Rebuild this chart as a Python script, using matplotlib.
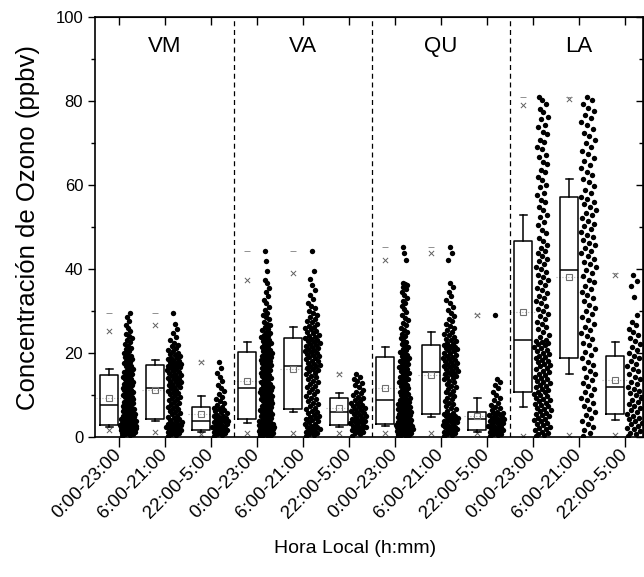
import numpy as np
import matplotlib.pyplot as plt
from matplotlib.ticker import MultipleLocator

plt.rcParams['font.family'] = ['Liberation Sans', 'DejaVu Sans']

sites = ['VM', 'VA', 'QU', 'LA']
periods = ['0:00-23:00', '6:00-21:00', '22:00-5:00']

# puntos individuales (ppbv)
vm_all = [0.3, 0.5, 0.6, 0.8, 0.9, 1.0, 1.1, 1.2, 1.2, 1.3, 1.4, 1.5, 1.5, 1.6, 1.7, 1.8, 1.8, 1.9, 2.0, 2.0,
          2.1, 2.2, 2.2, 2.3, 2.4, 2.4, 2.5, 2.5, 2.6, 2.6, 2.7, 2.7, 2.8, 2.8, 2.9,
          3.0, 3.1, 3.2, 3.3, 3.4, 3.5, 3.6, 3.7, 3.8, 3.9, 4.0, 4.1, 4.3, 4.4, 4.5, 4.7, 4.8, 5.0, 5.1, 5.2,
          5.4, 5.5, 5.7, 5.8, 6.0, 6.1, 6.3, 6.4, 6.6, 6.7, 6.9, 7.0, 7.2, 7.4, 7.6,
          7.8, 8.1, 8.3, 8.4, 8.7, 8.9, 9.0, 9.3, 9.5, 9.6, 9.9, 10.1, 10.2, 10.5, 10.7, 10.8, 11.1, 11.3,
          11.4, 11.7, 11.9, 12.0, 12.3, 12.5, 12.6, 12.9, 13.1, 13.2, 13.5, 13.7, 13.8, 14.1, 14.3, 14.5, 14.8,
          15.0, 15.3, 15.5, 15.8, 16.0, 16.3, 16.5, 16.8, 17.0, 17.3, 17.6, 17.9, 18.2, 18.5, 18.8, 19.1,
          19.4, 19.8, 20.1, 20.5, 20.9, 21.3, 21.7, 22.1, 22.6, 23.0, 23.5, 24.0, 24.6, 25.2, 25.9, 26.7,
          27.6, 28.5, 29.5]
vm_day = [0.3, 0.5, 0.7, 0.9, 1.0, 1.2, 1.3, 1.5, 1.6, 1.8, 1.9, 2.0, 2.2, 2.3, 2.5, 2.6, 2.8, 2.9, 3.1,
          3.2, 3.4, 3.6, 3.8, 4.0, 4.2,
          4.5, 4.8, 5.1, 5.4, 5.7, 6.0, 6.3, 6.6, 6.9, 7.2, 7.5, 7.8, 8.1, 8.4, 8.7, 9.0, 9.3, 9.6, 9.9,
          10.2, 10.5, 10.8, 11.0, 11.3, 11.6,
          11.8, 12.0, 12.3, 12.5, 12.7, 13.0, 13.2, 13.4, 13.7, 13.9, 14.1, 14.4, 14.6, 14.8, 15.1, 15.3,
          15.5, 15.8, 16.0, 16.2, 16.4, 16.6, 16.8, 17.0, 17.1,
          17.3, 17.5, 17.7, 17.9, 18.1, 18.3, 18.5, 18.7, 18.9, 19.2, 19.5, 19.8, 20.1, 20.4, 20.8, 21.2,
          21.6, 22.0, 22.5, 23.0, 23.8, 24.7, 25.8, 26.8, 29.5]
vm_night = [0.3, 0.5, 0.7, 0.9, 1.0, 1.2, 1.4, 1.5, 1.6, 1.7, 1.9, 2.1, 2.3, 2.5, 2.7, 2.9, 3.1, 3.3, 3.5,
            3.7, 3.8, 3.9, 4.1, 4.3, 4.5, 4.7, 4.9, 5.1, 5.3, 5.6, 5.9, 6.1, 6.4, 6.7, 7.0, 7.2, 7.6, 8.0,
            8.5, 9.0, 9.6, 10.2, 10.9, 11.6, 12.4, 13.3, 14.2, 15.3, 16.5, 17.9]
va_all = [0.2, 0.3, 0.4, 0.5, 0.6, 0.7, 0.8, 0.9, 1.0, 1.1, 1.2, 1.3, 1.4, 1.5, 1.6, 1.7, 1.8, 1.9, 2.0,
          2.1, 2.2, 2.3, 2.4, 2.5, 2.6, 2.7, 2.8, 2.9, 3.0, 3.2, 3.3, 3.5, 3.6, 3.8, 3.9, 4.1, 4.3,
          4.5, 4.7, 4.9, 5.1, 5.3, 5.5, 5.7, 5.9, 6.1, 6.3, 6.5, 6.7, 6.9, 7.1, 7.3, 7.5, 7.7, 7.9, 8.1,
          8.3, 8.5, 8.7, 8.9, 9.1, 9.3, 9.5, 9.7, 9.9, 10.1, 10.3, 10.5, 10.7, 10.9, 11.0, 11.2, 11.3,
          11.5, 11.6,
          11.8, 12.0, 12.3, 12.5, 12.7, 13.0, 13.2, 13.5, 13.7, 14.0, 14.2, 14.5, 14.7, 15.0, 15.2, 15.5,
          15.7, 16.0, 16.2, 16.5, 16.7, 17.0, 17.2, 17.5, 17.7, 18.0, 18.2, 18.4, 18.6, 18.8, 19.0, 19.2,
          19.4, 19.6, 19.8, 20.0, 20.2,
          20.5, 20.8, 21.1, 21.4, 21.7, 22.0, 22.3, 22.6, 22.9, 23.2, 23.5, 23.8, 24.1, 24.4, 24.7, 25.0,
          25.4, 25.8, 26.2, 26.6, 27.0, 27.5, 28.0, 28.5, 29.0, 29.6, 30.3, 31.0, 31.8, 32.7, 33.6, 34.5,
          35.5, 36.6, 37.5, 39.5, 41.8, 44.4]
va_day = [0.3, 0.5, 0.7, 0.9, 1.1, 1.3, 1.5, 1.7, 1.9, 2.1, 2.3, 2.5, 2.7, 3.0, 3.2, 3.5, 3.7, 4.0, 4.2,
          4.5, 4.8, 5.0, 5.3, 5.6, 5.9, 6.2, 6.6,
          7.0, 7.4, 7.8, 8.2, 8.6, 9.0, 9.4, 9.8, 10.2, 10.6, 11.0, 11.4, 11.8, 12.2, 12.6, 13.0, 13.4,
          13.8, 14.2, 14.6, 15.0, 15.3, 15.6, 15.9, 16.2, 16.5, 16.8, 17.0,
          17.2, 17.5, 17.7, 18.0, 18.2, 18.5, 18.7, 19.0, 19.2, 19.5, 19.7, 20.0, 20.2, 20.5, 20.7, 21.0,
          21.2, 21.5, 21.7, 22.0, 22.2, 22.5, 22.7, 22.9, 23.1, 23.3, 23.5,
          23.8, 24.1, 24.4, 24.7, 25.0, 25.3, 25.6, 25.9, 26.2, 26.5, 26.9, 27.3, 27.7, 28.1, 28.5, 29.0,
          29.5, 30.0, 30.6, 31.3, 32.0, 32.8, 33.8, 35.0, 36.3, 37.7, 39.5, 44.4]
va_night = [0.3, 0.6, 0.9, 1.1, 1.4, 1.6, 1.9, 2.1, 2.3, 2.5, 2.7, 2.9, 3.1, 3.3, 3.5, 3.7, 3.9, 4.1, 4.3,
            4.5, 4.7, 5.0, 5.2, 5.5, 5.7, 5.9, 6.1, 6.4, 6.6, 6.9, 7.1, 7.4, 7.6, 7.9, 8.2, 8.5, 8.8, 9.2,
            9.6, 10.0, 10.4, 10.8, 11.3, 11.8, 12.3, 12.8, 13.3, 13.9, 14.4, 15.0]
qu_all = [0.2, 0.3, 0.4, 0.5, 0.6, 0.7, 0.8, 0.9, 1.0, 1.0, 1.1, 1.2, 1.3, 1.4, 1.4, 1.5, 1.6, 1.7, 1.8,
          1.8, 1.9, 2.0, 2.1, 2.2, 2.2, 2.3, 2.4, 2.5, 2.5, 2.6, 2.7, 2.7, 2.8, 2.9, 2.9, 3.0, 3.1,
          3.3, 3.4, 3.6, 3.7, 3.9, 4.0, 4.2, 4.3, 4.5, 4.6, 4.8, 4.9, 5.1, 5.2, 5.4, 5.5, 5.7, 5.8, 6.0,
          6.1, 6.3, 6.4, 6.6, 6.7, 6.9, 7.0, 7.2, 7.3, 7.5, 7.6, 7.8, 7.9, 8.1, 8.2, 8.4, 8.5, 8.7, 8.8,
          9.1, 9.4, 9.6, 9.9, 10.2, 10.5, 10.8, 11.0, 11.3, 11.6, 11.9, 12.2, 12.4, 12.7, 13.0, 13.3,
          13.6, 13.8, 14.1, 14.4, 14.7, 15.0, 15.2, 15.5, 15.8, 16.1, 16.4, 16.6, 16.9, 17.2, 17.5, 17.8,
          18.0, 18.3, 18.5, 18.8, 19.0,
          19.3, 19.6, 19.9, 20.2, 20.6, 21.0, 21.4, 21.8, 22.2, 22.6, 23.0, 23.5, 24.0, 24.5, 25.0, 25.5,
          26.0, 26.6, 27.2, 27.8, 28.4, 29.0, 29.7, 30.4, 31.1, 31.8, 32.5, 33.2, 33.9, 34.6, 35.3, 35.7,
          36.1, 36.4, 36.6, 42.1, 43.7, 45.3]
qu_day = [0.3, 0.5, 0.7, 0.9, 1.1, 1.3, 1.5, 1.7, 1.9, 2.1, 2.3, 2.5, 2.7, 2.9, 3.1, 3.3, 3.5, 3.7, 3.9,
          4.1, 4.3, 4.5, 4.7, 4.9, 5.1, 5.2, 5.4,
          5.8, 6.2, 6.6, 7.0, 7.4, 7.8, 8.2, 8.6, 9.0, 9.4, 9.8, 10.2, 10.6, 11.0, 11.4, 11.8, 12.2, 12.6,
          13.0, 13.4, 13.7, 14.0, 14.3, 14.6, 14.9, 15.1, 15.3, 15.4,
          15.6, 15.9, 16.1, 16.4, 16.6, 16.9, 17.1, 17.4, 17.6, 17.9, 18.1, 18.4, 18.6, 18.9, 19.1, 19.4,
          19.6, 19.9, 20.1, 20.4, 20.6, 20.9, 21.1, 21.3, 21.5, 21.7, 21.9,
          22.2, 22.5, 22.8, 23.1, 23.4, 23.8, 24.2, 24.6, 25.0, 25.5, 26.0, 26.5, 27.0, 27.6, 28.2, 28.8,
          29.5, 30.2, 31.0, 31.8, 32.7, 33.6, 34.6, 35.6, 36.6, 42.1, 43.7, 45.3]
qu_night = [0.2, 0.4, 0.6, 0.8, 1.0, 1.2, 1.4, 1.5, 1.7, 1.9, 2.1, 2.3, 2.5, 2.7, 2.9, 3.1, 3.3, 3.5, 3.7,
            3.9, 4.1, 4.2, 4.4, 4.6, 4.8, 5.0, 5.2, 5.4, 5.6, 5.8, 6.0, 6.4, 6.8, 7.2, 7.7, 8.2, 8.8, 9.4,
            10.1, 10.8, 11.6, 12.4, 13.0, 13.7, 29.0]
la_all = [0.2, 0.4, 0.7, 1.0, 1.3, 1.6, 1.9, 2.2, 2.5, 2.8, 3.1, 3.4, 3.7, 4.0, 4.3, 4.6, 4.9, 5.2, 5.5,
          5.8, 6.1, 6.4, 6.7, 7.0, 7.3, 7.6, 7.9, 8.2, 8.5, 8.8, 9.1, 9.4, 9.7, 10.0, 10.3, 10.6, 10.8,
          11.1, 11.4, 11.8, 12.1, 12.4, 12.8, 13.1, 13.4, 13.8, 14.1, 14.4, 14.8, 15.1, 15.4, 15.8, 16.1,
          16.4, 16.8, 17.1, 17.4, 17.8, 18.1, 18.4, 18.8, 19.1, 19.4, 19.8, 20.1, 20.4, 20.8, 21.1, 21.4,
          21.8, 22.1, 22.4, 22.7, 22.9, 23.1,
          23.7, 24.3, 25.0, 25.6, 26.2, 26.8, 27.4, 28.0, 28.7, 29.3, 29.9, 30.5, 31.1, 31.8, 32.4, 33.0,
          33.6, 34.3, 34.9, 35.5, 36.1, 36.8, 37.4, 38.0, 38.6, 39.3, 39.9, 40.5, 41.1, 41.8, 42.4, 43.0,
          43.7, 44.4, 45.0, 45.8, 46.7,
          47.4, 48.6, 49.3, 50.5, 51.1, 52.3, 52.9, 54.1, 54.7, 55.9, 56.4, 57.7, 58.2, 59.5, 60.1, 61.3,
          61.8, 63.1, 63.6, 64.9, 65.4, 66.7, 67.2, 68.5, 69.0, 70.3, 70.8, 72.1, 72.6, 73.9, 74.4, 75.7,
          76.2, 77.5, 78.1, 79.3, 80.2, 81.0]
la_day = [0.3, 1.0, 1.7, 2.4, 3.1, 3.8, 4.5, 5.2, 5.9, 6.6, 7.3, 8.0, 8.7, 9.4, 10.1, 10.8, 11.5, 12.2,
          12.9, 13.6, 14.3, 15.0, 15.7, 16.4, 17.1, 17.9, 18.7,
          19.5, 20.3, 21.0, 21.8, 22.5, 23.3, 24.0, 24.8, 25.5, 26.3, 27.0, 27.8, 28.5, 29.3, 30.0, 30.8,
          31.5, 32.3, 33.0, 33.8, 34.5, 35.3, 36.0, 36.8, 37.5, 38.3, 39.0, 39.8,
          40.4, 41.1, 41.7, 42.4, 43.0, 43.7, 44.3, 45.0, 45.6, 46.3, 46.9, 47.6, 48.2, 48.9, 49.5, 50.2,
          50.8, 51.5, 52.1, 52.8, 53.4, 54.1, 54.7, 55.4, 56.0, 56.6, 57.2,
          58.0, 58.9, 59.7, 60.6, 61.4, 62.3, 63.1, 64.0, 64.8, 65.7, 66.5, 67.4, 68.2, 69.1, 69.9, 70.8,
          71.6, 72.5, 73.3, 74.2, 75.0, 75.9, 76.7, 77.6, 78.4, 79.3, 80.2, 81.0]
la_night = [0.2, 0.6, 1.0, 1.4, 1.8, 2.2, 2.6, 3.0, 3.4, 3.8, 4.2, 4.6, 5.0, 5.4, 5.9, 6.4, 6.9, 7.4, 7.9,
            8.4, 8.9, 9.4, 9.9, 10.4, 10.9, 11.4, 12.0, 12.6, 13.2, 13.8, 14.4, 15.0, 15.6, 16.2, 16.8,
            17.4, 18.0, 18.7, 19.3, 20.0, 20.7, 21.4, 22.1, 22.8, 23.5, 24.2, 25.0, 25.8, 26.6, 27.5,
            29.0, 33.4, 36.0, 37.2, 38.6]

clouds = [vm_all, vm_day, vm_night, va_all, va_day, va_night,
          qu_all, qu_day, qu_night, la_all, la_day, la_night]

# estadisticos de las cajas (ppbv)
q1 = [2.9, 4.2, 1.7, 4.3, 6.6, 2.9, 3.1, 5.4, 1.7, 10.8, 18.7, 5.4]
med = [7.6, 11.6, 3.9, 11.6, 17.0, 5.9, 8.8, 15.4, 4.2, 23.1, 39.8, 12.0]
q3 = [14.8, 17.1, 7.2, 20.2, 23.5, 9.2, 19.0, 21.9, 6.0, 46.7, 57.2, 19.3]
whislo = [2.5, 3.8, 1.2, 3.3, 6.0, 2.5, 2.6, 4.8, 1.2, 7.1, 15.0, 4.0]
whishi = [16.3, 18.3, 9.8, 22.7, 26.1, 10.4, 21.5, 25.1, 9.2, 52.9, 61.4, 22.7]
means = [9.4, 11.2, 5.4, 13.3, 16.3, 6.8, 11.7, 14.8, 5.0, 29.8, 38.2, 13.6]
p01 = [1.7, 1.3, 0.7, 1.0, 1.0, 0.9, 1.0, 1.0, 0.9, 0.3, 0.5, 0.5]
p99 = [25.2, 26.7, 17.9, 37.5, 39.0, 15.0, 42.1, 43.7, 29.0, 79.0, 80.4, 38.6]
vmax = [29.5, 29.5, 18.0, 44.4, 44.4, 15.2, 45.3, 45.3, 29.3, 81.0, 81.0, 39.0]

fig = plt.figure(figsize=(6.44, 5.77), dpi=100)
ax = fig.add_axes([95 / 644, 140 / 577, 548 / 644, 420 / 577])

pos = np.arange(1, 13)
box_x = pos - 0.21
cloud_x = pos + 0.2

stats = [dict(q1=a, med=b, q3=c, whislo=d, whishi=e, mean=f, fliers=[])
         for a, b, c, d, e, f in zip(q1, med, q3, whislo, whishi, means)]
line = dict(color='black', lw=1.1)
ax.bxp(stats, positions=box_x, widths=0.39, capwidths=0.15, showmeans=True,
       boxprops=line, medianprops=line, whiskerprops=line, capprops=line,
       meanprops=dict(marker='s', markerfacecolor='none', markeredgecolor='#707070',
                      markersize=4.5, markeredgewidth=0.8),
       manage_ticks=False)
ax.hlines(means, box_x - 0.3, box_x + 0.3, colors='#b0b0b0', linestyles=':', lw=0.8, zorder=1)
ax.scatter(box_x, p99, marker='x', color='#606060', s=14, lw=0.7)
ax.scatter(box_x, p01, marker='x', color='#606060', s=14, lw=0.7)
ax.scatter(box_x, vmax, marker='_', color='#909090', s=14, lw=0.7)

# nube de puntos al lado de cada caja
for xc, vals in zip(cloud_x, clouds):
    v = np.sort(np.array(vals))
    dens = np.array([np.sum(np.abs(v - a) < 2.0) for a in v])
    spread = np.sqrt(dens / dens.max())
    phase = (np.arange(len(v)) * 0.618034) % 1.0 * 2 - 1
    ax.scatter(xc + 0.19 * spread * phase, v, s=15, color='black', lw=0, zorder=3)

for xs in [3.5, 6.5, 9.5]:
    ax.axvline(xs, color='black', ls=(0, (4, 3)), lw=0.9)
for k, name in enumerate(sites):
    ax.text(3 * k + 2, 93, name, ha='center', va='center', fontsize=16)

ax.set_xlim(0.478, 12.39)
ax.set_ylim(0, 100)
ax.set_xticks(pos)
ax.set_xticklabels(periods * 4, rotation=45, ha='right', va='center',
                   rotation_mode='anchor', fontsize=13.5)
ax.set_yticks(range(0, 101, 20))
ax.yaxis.set_minor_locator(MultipleLocator(10))
ax.tick_params(axis='x', direction='out', length=7, width=1, pad=4)
ax.tick_params(axis='y', which='major', direction='out', length=5, width=1, labelsize=12)
ax.tick_params(axis='y', which='minor', direction='out', length=3, width=1)
for sp in ax.spines.values():
    sp.set_linewidth(1.2)

top = ax.secondary_xaxis('top')
top.set_xticks(pos)
top.set_xticklabels([])
top.tick_params(direction='in', length=6, width=1)
rgt = ax.secondary_yaxis('right')
rgt.set_yticks(range(0, 101, 20))
rgt.set_yticklabels([])
rgt.yaxis.set_minor_locator(MultipleLocator(10))
rgt.tick_params(which='major', direction='in', length=5, width=1)
rgt.tick_params(which='minor', direction='in', length=3, width=1)

ax.set_ylabel('Concentración de Ozono (ppbv)', fontsize=18.5)
ax.yaxis.set_label_coords(-0.10, 0.5)
ax.set_xlabel('Hora Local (h:mm)', fontsize=14)
ax.xaxis.set_label_coords(0.474, -0.245)

fig.savefig('out.png', dpi=100)
